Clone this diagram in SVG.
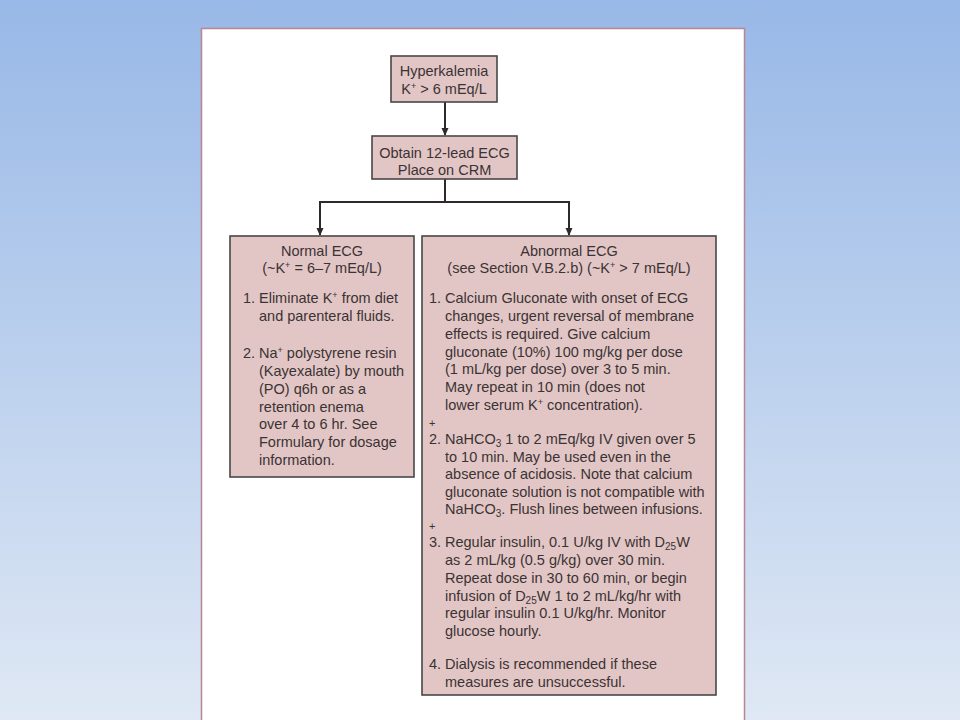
<svg xmlns="http://www.w3.org/2000/svg" width="960" height="720" viewBox="0 0 960 720">
<defs>
<linearGradient id="bg" x1="0" y1="0" x2="0" y2="1">
<stop offset="0" stop-color="#98b8e7"/>
<stop offset="1" stop-color="#dfe8f4"/>
</linearGradient>
<marker id="ah" markerWidth="8" markerHeight="8" refX="7" refY="4" orient="auto" markerUnits="userSpaceOnUse">
<path d="M0,0.5 L8,4 L0,7.5 Z" fill="#2e2a2a"/>
</marker>
<style>
.box{fill:#e2c6c6;stroke:#4a4646;stroke-width:1.6}
text{font-family:"Liberation Sans",Arial,sans-serif;font-size:14.5px;fill:#3b3333}
.c{text-anchor:middle}
.con{stroke:#2e2a2a;stroke-width:2;fill:none}
.sup{font-size:9px}
.sub{font-size:10px}
</style>
</defs>
<rect width="960" height="720" fill="url(#bg)"/>
<rect x="201.5" y="28.5" width="543" height="700" fill="#ffffff" stroke="#b98595" stroke-width="1.5"/>

<g id="connectors">
<line class="con" x1="445" y1="102" x2="445" y2="135" marker-end="url(#ah)"/>
<polyline class="con" points="445,179 445,202"/>
<polyline class="con" points="320,235 320,202 569,202 569,235"/>
<line class="con" x1="320" y1="220" x2="320" y2="235" marker-end="url(#ah)"/>
<line class="con" x1="569" y1="220" x2="569" y2="235" marker-end="url(#ah)"/>
</g>

<g id="hyperkalemia">
<rect class="box" x="391" y="56" width="106" height="46"/>
<text class="c" x="444" y="76">Hyperkalemia</text>
<text class="c" x="444" y="94">K<tspan class="sup" dy="-5">+</tspan><tspan dy="5"> &gt; 6 mEq/L</tspan></text>
</g>

<g id="obtain-ecg">
<rect class="box" x="372" y="136" width="145" height="43"/>
<text class="c" x="444.5" y="158">Obtain 12-lead ECG</text>
<text class="c" x="444.5" y="175">Place on CRM</text>
</g>

<g id="normal-ecg">
<rect class="box" x="230" y="236" width="184" height="241"/>
<text class="c" x="322" y="256">Normal ECG</text>
<text class="c" x="322" y="273">(~K<tspan class="sup" dy="-5">+</tspan><tspan dy="5"> = 6–7 mEq/L)</tspan></text>
<text x="243" y="303">1.</text>
<text x="259" y="303">Eliminate K<tspan class="sup" dy="-5">+</tspan><tspan dy="5"> from diet</tspan></text>
<text x="259" y="321">and parenteral fluids.</text>
<text x="243" y="358">2.</text>
<text x="259" y="358">Na<tspan class="sup" dy="-5">+</tspan><tspan dy="5"> polystyrene resin</tspan></text>
<text x="259" y="376">(Kayexalate) by mouth</text>
<text x="259" y="394">(PO) q6h or as a</text>
<text x="259" y="412">retention enema</text>
<text x="259" y="429">over 4 to 6 hr. See</text>
<text x="259" y="447">Formulary for dosage</text>
<text x="259" y="465">information.</text>
</g>

<g id="abnormal-ecg">
<rect class="box" x="422" y="236" width="294" height="459"/>
<text class="c" x="569" y="256">Abnormal ECG</text>
<text class="c" x="569" y="273">(see Section V.B.2.b) (~K<tspan class="sup" dy="-5">+</tspan><tspan dy="5"> &gt; 7 mEq/L)</tspan></text>
<text x="429" y="303">1.</text>
<text x="445" y="303">Calcium Gluconate with onset of ECG</text>
<text x="445" y="321">changes, urgent reversal of membrane</text>
<text x="445" y="339">effects is required. Give calcium</text>
<text x="445" y="357">gluconate (10%) 100 mg/kg per dose</text>
<text x="445" y="374">(1 mL/kg per dose) over 3 to 5 min.</text>
<text x="445" y="392">May repeat in 10 min (does not</text>
<text x="445" y="410">lower serum K<tspan class="sup" dy="-5">+</tspan><tspan dy="5"> concentration).</tspan></text>
<text x="429" y="427" style="font-size:11px">+</text>
<text x="429" y="444">2.</text>
<text x="445" y="444">NaHCO<tspan class="sub" dy="3">3</tspan><tspan dy="-3"> 1 to 2 mEq/kg IV given over 5</tspan></text>
<text x="445" y="462">to 10 min. May be used even in the</text>
<text x="445" y="479">absence of acidosis. Note that calcium</text>
<text x="445" y="497">gluconate solution is not compatible with</text>
<text x="445" y="514">NaHCO<tspan class="sub" dy="3">3</tspan><tspan dy="-3">. Flush lines between infusions.</tspan></text>
<text x="429" y="530" style="font-size:11px">+</text>
<text x="429" y="547">3.</text>
<text x="445" y="547">Regular insulin, 0.1 U/kg IV with D<tspan class="sub" dy="3">25</tspan><tspan dy="-3">W</tspan></text>
<text x="445" y="565">as 2 mL/kg (0.5 g/kg) over 30 min.</text>
<text x="445" y="583">Repeat dose in 30 to 60 min, or begin</text>
<text x="445" y="601">infusion of D<tspan class="sub" dy="3">25</tspan><tspan dy="-3">W 1 to 2 mL/kg/hr with</tspan></text>
<text x="445" y="618">regular insulin 0.1 U/kg/hr. Monitor</text>
<text x="445" y="636">glucose hourly.</text>
<text x="429" y="669">4.</text>
<text x="445" y="669">Dialysis is recommended if these</text>
<text x="445" y="687">measures are unsuccessful.</text>
</g>
</svg>
